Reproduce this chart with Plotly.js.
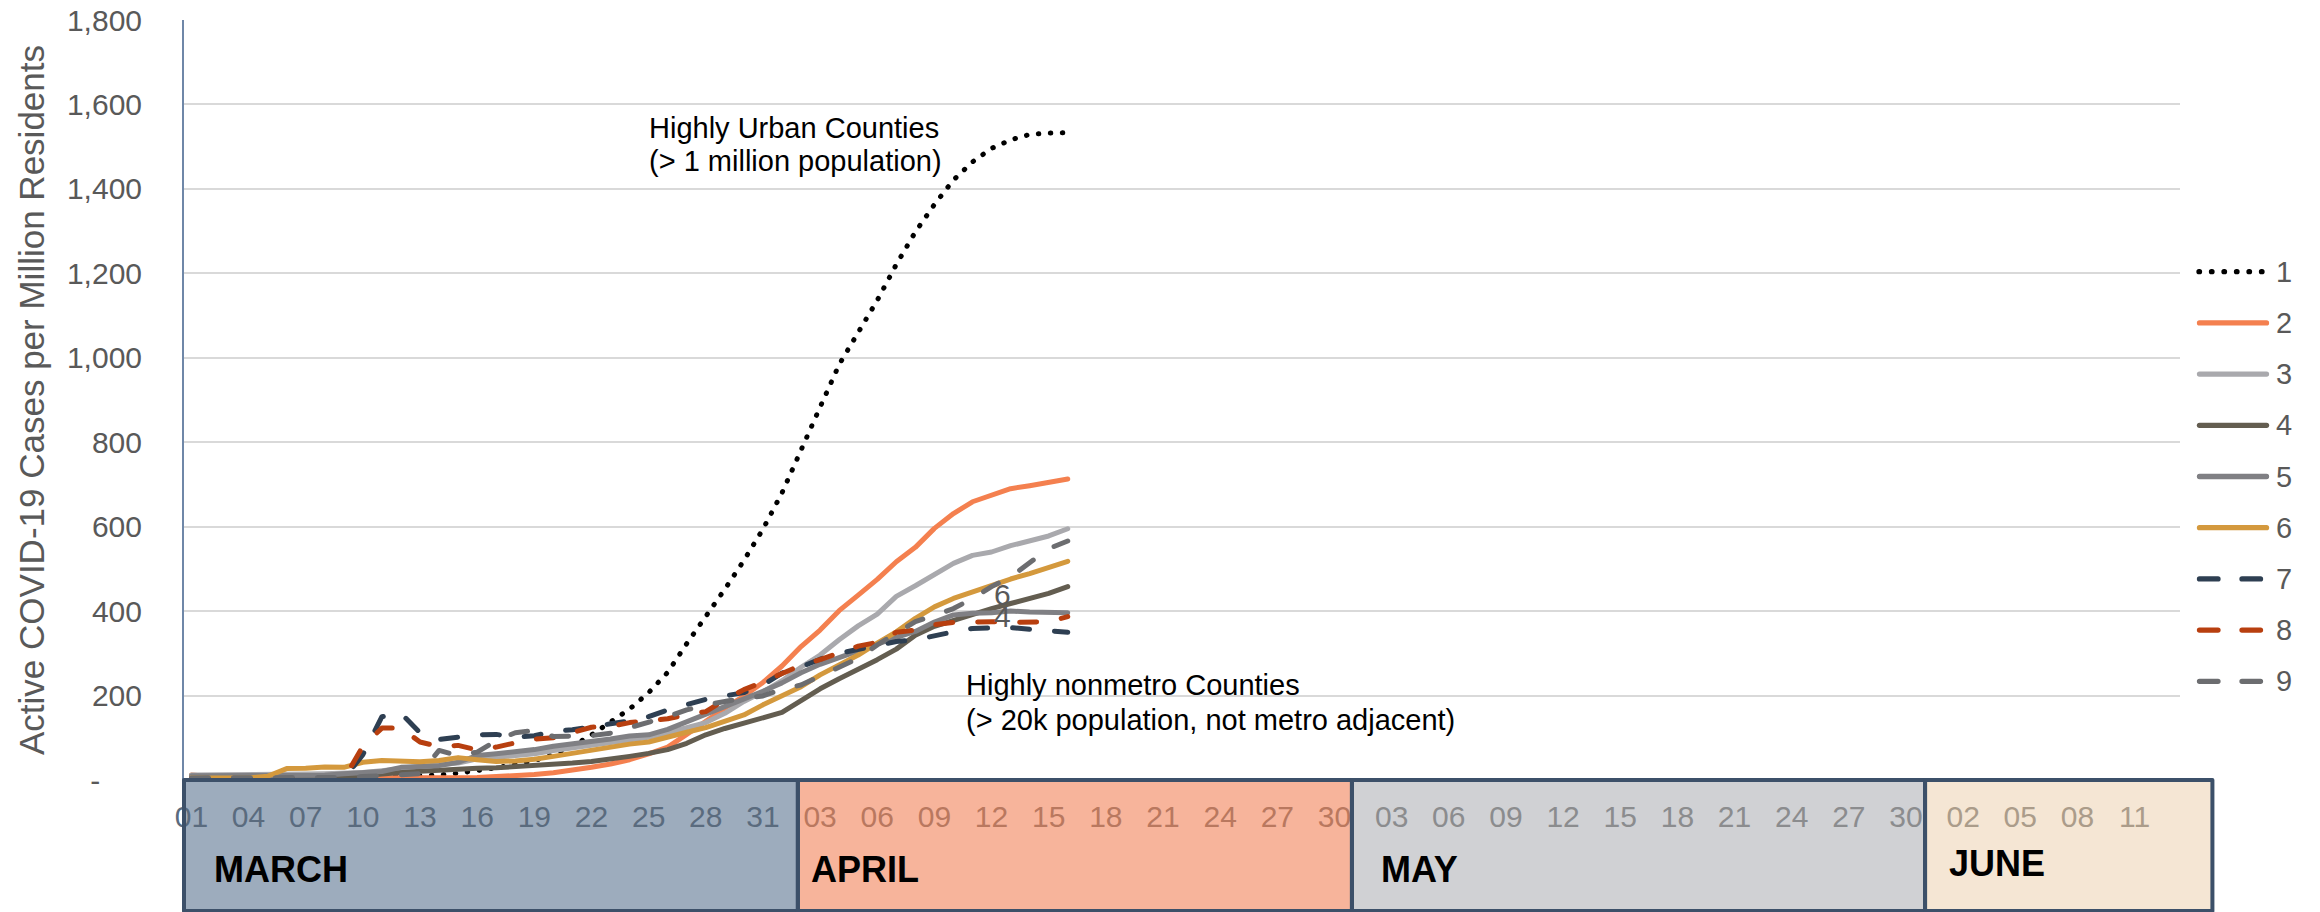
<!DOCTYPE html>
<html>
<head>
<meta charset="utf-8">
<script src="https://cdn.plot.ly/plotly-3.0.1.min.js"></script>
<style>
  html, body { margin: 0; padding: 0; background: #ffffff; }
  #chart { width: 2320px; height: 912px; }
</style>
</head>
<body>
<div id="chart"></div>
<script>
// Active COVID-19 cases per million residents, daily from 1 March 2020,
// one series per county urban/rural class (1 = most urban ... 9 = most rural).
const firstDay = '2020-03-01';
const seriesNames = ['1', '2', '3', '4', '5', '6', '7', '8', '9'];

const s1 = [0, 0, 1, 1, 2, 2, 3, 4, 5, 6, 7, 8, 10, 12, 16, 22, 29, 37, 46, 60, 80, 107, 137, 168, 207, 255, 323, 385, 452, 520, 594, 680, 778, 883, 984, 1061, 1136, 1221, 1298, 1363, 1421, 1464, 1496, 1516, 1529, 1532, 1533];
const s2 = [12, 8, 5, 5, 5, 5, 5, 5, 5, 5, 5, 5, 5, 6, 6, 6, 8, 10, 13, 17, 23, 30, 38, 48, 62, 78, 108, 140, 170, 199, 231, 270, 316, 355, 401, 438, 475, 517, 551, 596, 631, 659, 674, 690, 697, 705, 713];
const s3 = [12, 12, 12, 12, 12, 13, 14, 15, 16, 18, 22, 28, 32, 36, 40, 50, 54, 57, 62, 70, 76, 82, 88, 95, 101, 112, 124, 136, 158, 186, 209, 235, 267, 296, 332, 365, 393, 435, 460, 488, 513, 532, 540, 555, 568, 578, 595];
const s4 = [2, 2, 3, 3, 4, 5, 6, 7, 8, 10, 14, 18, 21, 23, 26, 28, 29, 31, 34, 37, 40, 44, 49, 56, 63, 72, 87, 107, 122, 134, 148, 160, 188, 216, 240, 262, 285, 310, 343, 364, 378, 394, 406, 418, 430, 442, 458];
const s5 = [10, 10, 10, 10, 10, 10, 10, 11, 15, 18, 20, 30, 32, 34, 42, 58, 62, 66, 72, 80, 85, 90, 97, 104, 107, 120, 138, 155, 172, 192, 210, 230, 254, 274, 290, 306, 324, 338, 352, 374, 391, 395, 396, 400, 398, 396, 396];
const s6 = [5, 5, 5, 5, 9, 27, 28, 31, 30, 42, 46, 44, 43, 46, 53, 48, 44, 45, 49, 56, 63, 72, 78, 85, 90, 100, 113, 124, 138, 154, 178, 199, 221, 249, 272, 296, 324, 351, 383, 410, 430, 446, 460, 476, 489, 505, 518];
const s7 = [3, 3, 3, 3, 3, 3, 3, 3, 3, 60, 150, 158, 112, 96, 102, 107, 108, 101, 105, 115, 119, 127, 133, 140, 150, 166, 180, 191, 199, 207, 225, 253, 268, 286, 300, 309, 320, 328, 332, 343, 351, 359, 359, 361, 357, 354, 350];
const s8 = [3, 3, 3, 3, 3, 3, 3, 3, 2, 80, 123, 123, 90, 79, 82, 71, 78, 88, 97, 100, 112, 125, 127, 136, 140, 145, 155, 162, 190, 214, 232, 252, 272, 285, 300, 317, 326, 350, 355, 368, 373, 375, 375, 373, 373, 375, 387];
const s9 = [5, 5, 5, 5, 5, 5, 5, 5, 6, 8, 10, 12, 15, 70, 58, 66, 93, 112, 117, 103, 103, 105, 111, 123, 138, 150, 166, 178, 186, 194, 199, 215, 225, 245, 265, 288, 320, 347, 375, 390, 406, 430, 458, 481, 513, 548, 566];

// Day-of-month tick labels, every third day
const marchDays = ['01', '04', '07', '10', '13', '16', '19', '22', '25', '28', '31'];
const aprilDays = ['03', '06', '09', '12', '15', '18', '21', '24', '27', '30'];
const mayDays = ['03', '06', '09', '12', '15', '18', '21', '24', '27', '30'];
const juneDays = ['02', '05', '08', '11'];
const monthNames = ['MARCH', 'APRIL', 'MAY', 'JUNE'];

const yTicks = [0, 200, 400, 600, 800, 1000, 1200, 1400, 1600, 1800];
const yTickLabels = ['-', '200', '400', '600', '800', '1,000', '1,200', '1,400', '1,600', '1,800'];

// ---- styling ----
const FONT = "'Liberation Sans', Arial, Helvetica, sans-serif";
const GREY_TEXT = '#595959';
const lineColors = ['#000000', '#F4804F', '#A9A9AD', '#635D50', '#808084', '#D4993D', '#2E3F52', '#B83F0F', '#6C6D70'];
const lineKinds = ['dot', 'solid', 'solid', 'solid', 'solid', 'solid', 'dash', 'dash', 'dash'];
const dashFor = { dot: '0.5px,11.5px', dash: '17px,25px', solid: 'solid' };
const LINE_W = 5;

const monthTickColors = ['#5A6B7E', '#B9785F', '#8B8C8E', '#AB9C8A'];
const monthFills = ['#9DACBD', '#F7B49B', '#D0D1D4', '#F5E6D4'];
const BOX_BORDER = '#3C5069';

// plot frame in pixels
const W = 2320, H = 912;
const M = { l: 184, r: 140, t: 20, b: 132 };
const PW = W - M.l - M.r, PH = H - M.t - M.b;
const pxX = px => (px - M.l) / PW;
const pxY = py => (H - M.b - py) / PH;

// x range: half a day of padding before 1 March, running into mid June
const axisStart = '2020-02-29 14:40';
const axisEnd = '2020-06-13 09:10';
const toMs = s => Date.parse(s.replace(' ', 'T') + 'Z');
const dateToPaper = s => (toMs(s) - toMs(axisStart)) / (toMs(axisEnd) - toMs(axisStart));

// month panel boundaries under the axis
const panelEdges = [axisStart, '2020-04-01 20:00', '2020-04-30 22:00', '2020-05-31 00:00', '2020-06-15 02:00'];
const monthLabelAt = ['2020-03-02 01:30', '2020-04-02 10:00', '2020-05-02 08:00', '2020-06-01 04:00'];

const dates = s1.map((_, i) => {
  const d = new Date(toMs(firstDay + ' 00:00') + i * 86400000);
  return d.toISOString().slice(0, 10);
});

const allSeries = [s1, s2, s3, s4, s5, s6, s7, s8, s9];

const traces = allSeries.map((vals, k) => ({
  type: 'scatter',
  mode: 'lines',
  name: seriesNames[k],
  x: dates,
  y: vals,
  line: { color: lineColors[k], width: LINE_W, dash: dashFor[lineKinds[k]] },
  hoverinfo: 'x+y+name',
  showlegend: false
}));

// tick values / coloured tick text
const tickvals = [], ticktext = [];
[['2020-03-', marchDays], ['2020-04-', aprilDays], ['2020-05-', mayDays], ['2020-06-', juneDays]]
  .forEach(([prefix, days], m) => {
    days.forEach(d => {
      tickvals.push(prefix + d);
      ticktext.push('<span style="color:' + monthTickColors[m] + '">' + d + '</span>');
    });
  });

const shapes = [];
const annotations = [];
const panelBottom = pxY(911);

monthNames.forEach((name, m) => {
  const x0 = dateToPaper(panelEdges[m]);
  const x1 = dateToPaper(panelEdges[m + 1]);
  shapes.push({
    type: 'rect', xref: 'paper', yref: 'paper', x0, x1, y0: panelBottom, y1: 0,
    fillcolor: monthFills[m], line: { width: 0 }, layer: 'below'
  });
  shapes.push({
    type: 'rect', xref: 'paper', yref: 'paper', x0, x1, y0: panelBottom, y1: 0,
    fillcolor: 'rgba(0,0,0,0)', line: { color: BOX_BORDER, width: 4 }, layer: 'above'
  });
  annotations.push({
    xref: 'x', yref: 'paper', x: monthLabelAt[m], y: m === 3 ? pxY(864) : pxY(869),
    xanchor: 'left', yanchor: 'middle', showarrow: false,
    text: '<b>' + name + '</b>', font: { family: FONT, size: 36, color: '#000000' }
  });
});

// legend: sample line + class number
const LEG_Y0 = 271.7, LEG_STEP = 51.2;
seriesNames.forEach((name, k) => {
  const y = pxY(LEG_Y0 + LEG_STEP * k);
  let xa, xb, dash;
  if (lineKinds[k] === 'dot') { xa = 2199; xb = 2264; dash = '0.5px,12px'; }
  else if (lineKinds[k] === 'dash') { xa = 2199.5; xb = 2261; dash = '18.5px,24px'; }
  else { xa = 2199.5; xb = 2266.5; dash = 'solid'; }
  shapes.push({
    type: 'line', xref: 'paper', yref: 'paper',
    x0: pxX(xa), x1: pxX(xb), y0: y, y1: y,
    line: { color: lineColors[k], width: 5.3, dash }, layer: 'above'
  });
  annotations.push({
    xref: 'paper', yref: 'paper', x: pxX(2274), y,
    xanchor: 'left', yanchor: 'middle', showarrow: false,
    text: name, font: { family: FONT, size: 29, color: GREY_TEXT }
  });
});

// callouts in the plot area
const noteFont = { family: FONT, size: 29, color: '#000000' };
[
  { x: '2020-03-24 22:20', y: 1544, text: 'Highly Urban Counties' },
  { x: '2020-03-24 22:20', y: 1465, text: '(&gt; 1 million population)' },
  { x: '2020-04-10 13:00', y: 224, text: 'Highly nonmetro Counties' },
  { x: '2020-04-10 13:00', y: 142, text: '(&gt; 20k population, not metro adjacent)' }
].forEach(a => annotations.push({
  xref: 'x', yref: 'y', x: a.x, y: a.y, text: a.text,
  xanchor: 'left', yanchor: 'middle', showarrow: false, font: noteFont
}));
[
  { x: '2020-04-12 14:00', y: 440, text: '6' },
  { x: '2020-04-12 14:00', y: 387, text: '4' }
].forEach(a => annotations.push({
  xref: 'x', yref: 'y', x: a.x, y: a.y, text: a.text,
  xanchor: 'center', yanchor: 'middle', showarrow: false,
  font: { family: FONT, size: 30, color: GREY_TEXT }
}));

const layout = {
  width: W, height: H,
  margin: { l: M.l, r: M.r, t: M.t, b: M.b, pad: 0 },
  paper_bgcolor: '#ffffff',
  plot_bgcolor: '#ffffff',
  font: { family: FONT, color: GREY_TEXT },
  showlegend: false,
  xaxis: {
    type: 'date',
    range: [axisStart, axisEnd],
    tickmode: 'array', tickvals, ticktext,
    tickfont: { family: FONT, size: 30 },
    ticks: '', showgrid: false, zeroline: false, showline: false,
    ticklabelstandoff: 16,
    automargin: false
  },
  yaxis: {
    range: [0, 1800],
    tickmode: 'array', tickvals: yTicks,
    ticktext: yTickLabels.map((t, i) => i === 0 ? t + '\u00a0\u00a0\u00a0\u00a0\u00a0' : t),
    tickfont: { family: FONT, size: 30, color: GREY_TEXT },
    ticks: '', ticklabelstandoff: 34,
    showgrid: true, gridcolor: '#D9D9D9', gridwidth: 2,
    zeroline: false,
    showline: true, linecolor: '#6F87A8', linewidth: 2,
    title: {
      text: 'Active COVID-19 Cases per Million Residents',
      font: { family: FONT, size: 35, color: GREY_TEXT },
      standoff: 12
    },
    automargin: false
  },
  shapes,
  annotations
};

Plotly.newPlot('chart', traces, layout, { displayModeBar: false, staticPlot: true }).then(gd => {
  // rounded caps give the dotted/dashed strokes their soft ends
  gd.querySelectorAll('.scatterlayer path.js-line, .shapelayer path').forEach(p => {
    p.style.strokeLinecap = 'round';
    p.style.strokeLinejoin = 'round';
  });
});
</script>
</body>
</html>
